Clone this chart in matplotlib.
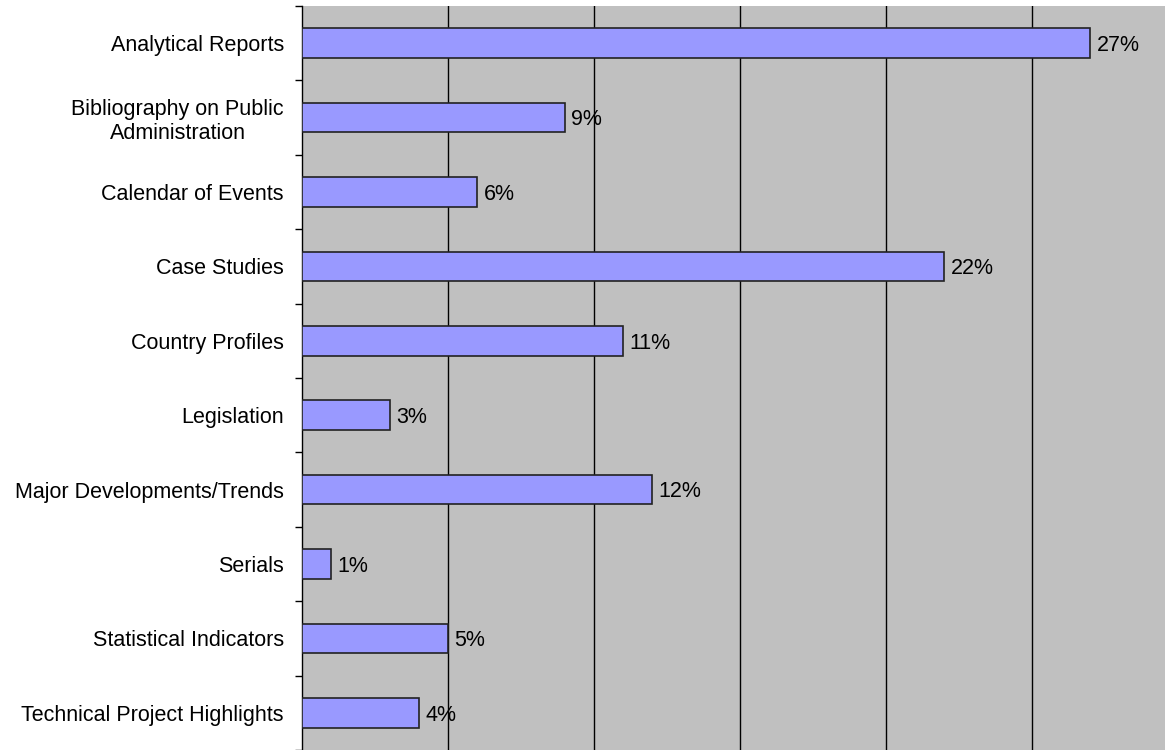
import numpy as np
import matplotlib.pyplot as plt
from matplotlib.transforms import ScaledTranslation

plt.rcParams['font.family'] = ['Liberation Sans', 'DejaVu Sans']

categories = [
    'Analytical Reports',
    'Bibliography on Public\nAdministration',
    'Calendar of Events',
    'Case Studies',
    'Country Profiles',
    'Legislation',
    'Major Developments/Trends',
    'Serials',
    'Statistical Indicators',
    'Technical Project Highlights',
]
values = [27, 9, 6, 22, 11, 3, 12, 1, 5, 4]

fig = plt.figure(figsize=(11.65, 7.5), dpi=100)
# plot area runs past the right edge of the picture, as in the original
ax = fig.add_axes([302 / 1165, 0, 876 / 1165, 744 / 750])
ax.set_facecolor('#C0C0C0')

y = np.arange(len(categories))
ax.barh(y, values, height=0.4, color='#9999FF', edgecolor='#222222',
        linewidth=1.2, zorder=3)

# baseline a bit below bar centre so the caps sit centred on the bar
shift = ax.transData + ScaledTranslation(0, -0.078, fig.dpi_scale_trans)
for yi, v in zip(y, values):
    ax.text(v + 0.22, yi, f'{v}%', va='baseline', ha='left', fontsize=15.5,
            color='black', zorder=4, transform=shift)

ax.set_xlim(0, 30)
ax.set_ylim(len(categories) - 0.5, -0.5)
ax.set_xticks([5, 10, 15, 20, 25])
ax.set_xticklabels([])
ax.tick_params(axis='x', length=0)
ax.grid(axis='x', color='black', linewidth=1, zorder=1)

ax.set_yticks(y)
ax.set_yticklabels(categories, fontsize=15.5, multialignment='center')
ax.set_yticks(np.arange(len(categories) + 1) - 0.5, minor=True)
ax.tick_params(axis='y', which='major', length=0, pad=13)
ax.tick_params(axis='y', which='minor', length=5, width=1, direction='out')

for s in ['top', 'right', 'bottom']:
    ax.spines[s].set_visible(False)
ax.spines['left'].set_color('black')
ax.spines['left'].set_linewidth(1)

fig.savefig('out.png', dpi=100)
